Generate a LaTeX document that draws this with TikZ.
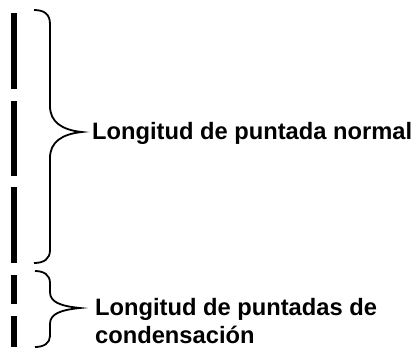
\documentclass[tikz,border=0pt]{standalone}
\usepackage{fontspec}
\setmainfont{Liberation Sans}

\begin{document}
\begin{tikzpicture}[
    x=1pt,
    y=-1pt,
    stitch/.style={
        line width=5.5pt,
        black
    },
    bracket/.style={
        line width=1.8pt,
        black
    },
    label/.style={
        font=\fontsize{23.7}{28}\selectfont\bfseries,
        anchor=base west,
        inner sep=0pt,
        align=left
    }
]

\useasboundingbox (0,0) rectangle (415,349);

% --- Stitches (left column) ---
\foreach \ya/\yb in {13/89, 101/176, 187/263, 275/304, 316/347}
    \draw[stitch] (14,\ya) -- (14,\yb);

% --- Normal stitch length brace ---
\draw[bracket] (34,10) .. controls (44,10) and (50,14) .. (50,24) -- (50,106)
    .. controls (50,122) and (62,130) .. (82,132)
    .. controls (62,134) and (50,142) .. (50,158) -- (50,250)
    .. controls (50,259) and (44,263) .. (34,263);

% --- Condensation stitch length brace ---
\draw[bracket] (35,271) .. controls (44,271) and (50,275) .. (50,283) -- (50,292)
    .. controls (50,302) and (60,306) .. (80,308)
    .. controls (60,310) and (50,314) .. (50,324) -- (50,336)
    .. controls (50,343) and (44,347) .. (35,347);

% --- Labels ---
\node[label] (normal) at (92,139) {Longitud de puntada normal};
\node[label] (condens) at (95,343) {Longitud de puntadas de\\condensación};

\end{tikzpicture}
\end{document}
